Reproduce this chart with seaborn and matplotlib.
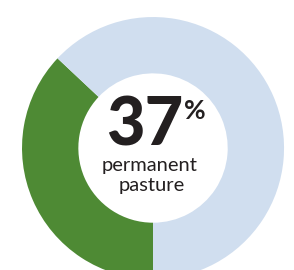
import matplotlib
matplotlib.use("Agg")
import matplotlib.pyplot as plt
import seaborn as sns

sns.set_theme(style="white")
plt.rcParams["font.family"] = ["Lato", "DejaVu Sans"]

labels = ["permanent pasture", "other"]
shares = [37, 63]
colors = ["#4E8A34", "#D0DEEF"]
big_value = "37"
caption = "permanent\npasture"

fig = plt.figure(figsize=(2.94, 2.70), dpi=100)
ax = fig.add_axes([0, 0, 1, 1])
ax.pie(shares, colors=colors, startangle=-90, counterclock=False,
       radius=1.0, wedgeprops=dict(width=0.43, linewidth=0))
ax.set_xlim(-1.168, 1.076)
ax.set_ylim(-0.931, 1.130)
ax.set_aspect("auto")
ax.axis("off")

ax.text(-0.065, 0.02, big_value, ha="center", va="baseline",
        fontsize=48, fontweight="black", color="#231F20")
ax.text(0.24, 0.22, "%", ha="left", va="baseline",
        fontsize=19, fontweight="bold", color="#231F20")
ax.text(-0.03, -0.175, "permanent", ha="center", va="baseline",
        fontsize=14.5, color="#231F20")
ax.text(-0.01, -0.325, "pasture", ha="center", va="baseline",
        fontsize=14.5, color="#231F20")

fig.savefig("out.png", dpi=100)
